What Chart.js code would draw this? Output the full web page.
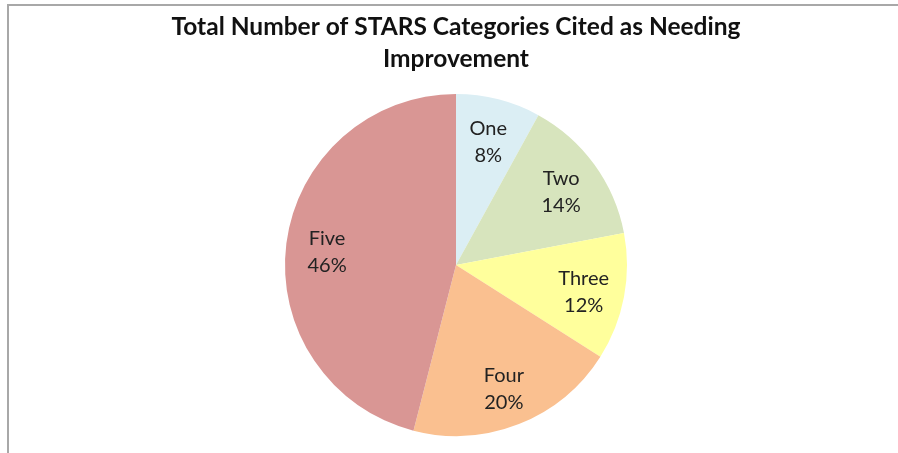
<!DOCTYPE html>
<html>
<head>
<meta charset="utf-8">
<script src="https://cdn.jsdelivr.net/npm/chart.js@4"></script>
<style>
  html, body { margin: 0; padding: 0; background: #fff; }
  #wrap { width: 898px; height: 453px; }
</style>
</head>
<body>
<div id="wrap"><canvas id="pieChart" width="898" height="453"></canvas></div>
<script>
const categories = ['One', 'Two', 'Three', 'Four', 'Five'];
const percents = [8, 14, 12, 20, 46];
const sliceColors = ['#dbeef4', '#d7e4bd', '#ffff9c', '#fac090', '#d99694'];

// frame lines along the top and left edge, like the source picture
const framePlugin = {
  id: 'frame',
  beforeDraw(chart) {
    const c = chart.ctx;
    c.save();
    c.strokeStyle = '#a8a8a8';
    c.lineWidth = 2;
    c.beginPath();
    c.moveTo(898, 5);
    c.lineTo(8, 5);
    c.lineTo(8, 453);
    c.stroke();
    c.restore();
  }
};

// category name + percent inside each slice
const sliceLabels = {
  id: 'sliceLabels',
  afterDatasetsDraw(chart) {
    const c = chart.ctx;
    const meta = chart.getDatasetMeta(0);
    c.save();
    c.font = '20px Lato, "Liberation Sans", sans-serif';
    c.fillStyle = '#222';
    c.textAlign = 'center';
    c.textBaseline = 'middle';
    meta.data.forEach((arc, i) => {
      const p = arc.getProps(['x', 'y', 'startAngle', 'endAngle', 'outerRadius']);
      const mid = (p.startAngle + p.endAngle) / 2;
      const r = p.outerRadius * 0.76;
      const x = p.x + Math.cos(mid) * r;
      const y = p.y + Math.sin(mid) * r + 3;
      c.fillText(categories[i], x, y - 13.5);
      c.fillText(percents[i] + '%', x, y + 13.5);
    });
    c.restore();
  }
};

new Chart(document.getElementById('pieChart'), {
  type: 'pie',
  data: {
    labels: categories,
    datasets: [{
      data: percents,
      backgroundColor: sliceColors,
      borderWidth: 0
    }]
  },
  options: {
    responsive: false,
    animation: false,
    layout: { padding: { left: 14, right: 0, top: 0, bottom: 17 } },
    plugins: {
      legend: { display: false },
      tooltip: { enabled: false },
      title: {
        display: true,
        text: ['Total Number of STARS Categories Cited as Needing', 'Improvement'],
        color: '#111',
        font: { family: 'Lato, "Liberation Sans", sans-serif', size: 24.5, weight: 'bold', lineHeight: '32px' },
        padding: { top: 11, bottom: 19 }
      }
    }
  },
  plugins: [framePlugin, sliceLabels]
});
</script>
</body>
</html>
